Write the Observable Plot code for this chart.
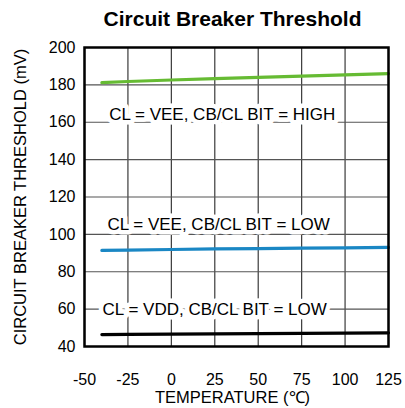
<!DOCTYPE html>
<html>
<head>
<meta charset="utf-8">
<script src="https://cdn.jsdelivr.net/npm/d3@7"></script>
<script src="https://cdn.jsdelivr.net/npm/@observablehq/plot@0.6"></script>
<style>
  html, body { margin: 0; padding: 0; background: #fff; }
  #chart { width: 405px; height: 408px; }
</style>
</head>
<body>
<div id="chart"></div>
<script>
const title = "Circuit Breaker Threshold";
const xLabel = "TEMPERATURE (\u2103)";
const yLabel = "CIRCUIT BREAKER THRESHOLD (mV)";
const xTicks = [-50, -25, 0, 25, 50, 75, 100, 125];
const yTicks = [40, 60, 80, 100, 120, 140, 160, 180, 200];

const temps = [-40, -25, 0, 25, 50, 75, 100, 125];
const highVee = [181.2, 181.8, 182.6, 183.3, 184.0, 184.7, 185.4, 186.0];
const lowVee  = [91.4, 91.6, 91.9, 92.2, 92.4, 92.6, 92.8, 93.0];
const lowVdd  = [46.4, 46.5, 46.6, 46.8, 46.9, 47.0, 47.2, 47.3];

const seriesNames = ["highVee", "lowVee", "lowVdd"];
const seriesColors = ["#66bb33", "#1a87c4", "#000000"];
const seriesValues = [highVee, lowVee, lowVdd];

const labelTexts = ["CL = VEE, CB/CL BIT = HIGH", "CL = VEE, CB/CL BIT = LOW", "CL = VDD, CB/CL BIT = LOW"];
const labelX = [-35.8, -36.8, -39.6];
const labelY = [164.0, 105.0, 59.7];

const rows = seriesNames.flatMap((s, i) =>
  temps.map((t, j) => ({series: s, x: t, y: seriesValues[i][j]})));
const labels = labelTexts.map((t, i) => ({text: t, x: labelX[i], y: labelY[i]}));

const chart = Plot.plot({
  width: 405,
  height: 408,
  marginTop: 47,
  marginBottom: 62,
  marginLeft: 84,
  marginRight: 17,
  style: {fontFamily: "Arial, 'Liberation Sans', sans-serif", fontSize: "16px", color: "#000", background: "#fff"},
  x: {domain: [-50, 125], ticks: xTicks, label: null},
  y: {domain: [40, 200], ticks: yTicks, label: null},
  color: {domain: seriesNames, range: seriesColors},
  marks: [
    Plot.ruleX(xTicks, {stroke: "#3a3a3a", strokeWidth: 1.2}),
    Plot.ruleY(yTicks, {stroke: "#555", strokeWidth: 1.2}),
    Plot.text(labels, {x: "x", y: "y", text: "text", textAnchor: "start", lineAnchor: "middle", fontSize: 17, fill: "#000", stroke: "#fff", strokeWidth: 9, paintOrder: "stroke"}),
    Plot.line(rows, {x: "x", y: "y", z: "series", stroke: "series", strokeWidth: 3.2}),
    Plot.frame({stroke: "#000", strokeWidth: 2.5}),
    Plot.axisX({ticks: xTicks, tickSize: 0, tickPadding: 27, fontSize: 16, tickFormat: d => String(d)}),
    Plot.axisY({ticks: yTicks, tickSize: 0, tickPadding: 9, fontSize: 16, tickFormat: d => String(d)}),
    Plot.text([title], {frameAnchor: "top", lineAnchor: "middle", dy: -28, dx: -4, fontSize: 21, fontWeight: "bold"}),
    Plot.text([xLabel], {frameAnchor: "bottom", lineAnchor: "middle", dy: 51, dx: -4, fontSize: 16.5}),
    Plot.text([yLabel], {frameAnchor: "left", textAnchor: "middle", lineAnchor: "middle", dx: -64, rotate: -90, fontSize: 16.5})
  ]
});
document.getElementById("chart").appendChild(chart);
</script>
</body>
</html>
